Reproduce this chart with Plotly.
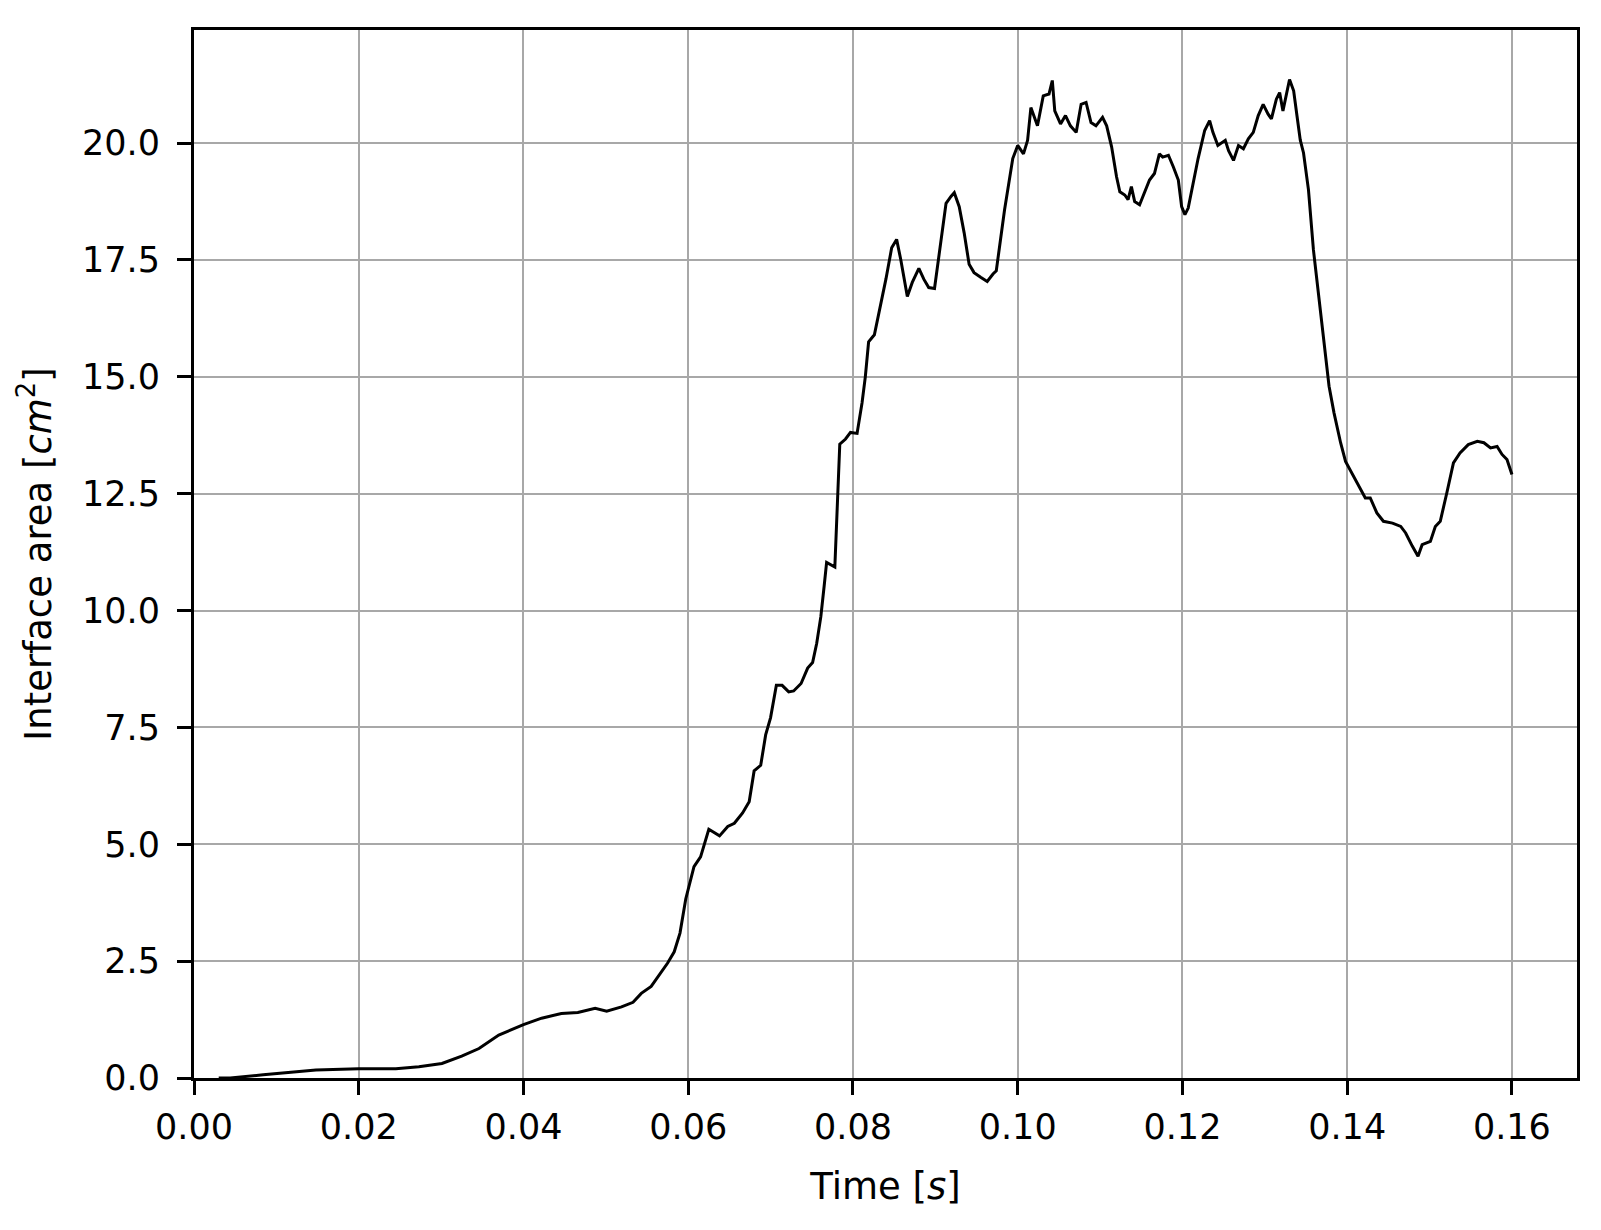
"""
界面面积随时间变化曲线
"""

import plotly.graph_objects as go

# 时间 [s]
time_s = [
    0.003, 0.0044, 0.0084, 0.0112, 0.0148, 0.0200, 0.0245, 0.0273, 0.0301, 0.0325,
    0.0346, 0.0370, 0.0400, 0.0422, 0.0446, 0.0466, 0.0487, 0.0501, 0.0519, 0.0533,
    0.0543, 0.0555, 0.0563, 0.0575, 0.0583, 0.0590, 0.0597, 0.0607, 0.0615, 0.0625,
    0.0638, 0.0648, 0.0656, 0.0666, 0.0674, 0.0680, 0.0688, 0.0694, 0.0700, 0.0707,
    0.0714, 0.0722, 0.0728, 0.0737, 0.0745, 0.0751, 0.0756, 0.0761, 0.0765, 0.0768,
    0.0778, 0.0781, 0.0784, 0.0791, 0.0797, 0.0805, 0.0811, 0.0815, 0.0819, 0.0826,
    0.0832, 0.0840, 0.0847, 0.0853, 0.0858, 0.0866, 0.0872, 0.0880, 0.0886, 0.0892,
    0.0899, 0.0905, 0.0913, 0.0919, 0.0923, 0.0929, 0.0935, 0.0941, 0.0947, 0.0955,
    0.0963, 0.0970, 0.0974, 0.0984, 0.0994, 0.1000, 0.1007, 0.1012, 0.1016, 0.1024,
    0.1031, 0.1038, 0.1042, 0.1045, 0.1052, 0.1058, 0.1064, 0.1071, 0.1077, 0.1083,
    0.1089, 0.1095, 0.1103, 0.1108, 0.1114, 0.1120, 0.1124, 0.1130, 0.1134, 0.1138,
    0.1142, 0.1148, 0.1154, 0.1160, 0.1166, 0.1172, 0.1176, 0.1183, 0.1189, 0.1195,
    0.1199, 0.1203, 0.1207, 0.1213, 0.1219, 0.1227, 0.1233, 0.1237, 0.1243, 0.1252,
    0.1256, 0.1262, 0.1268, 0.1274, 0.1280, 0.1286, 0.1292, 0.1298, 0.1304, 0.1308,
    0.1314, 0.1318, 0.1322, 0.1330, 0.1335, 0.1339, 0.1343, 0.1347, 0.1353, 0.1359,
    0.1366, 0.1370, 0.1374, 0.1378, 0.1384, 0.1392, 0.1398, 0.1406, 0.1414, 0.1422,
    0.1428, 0.1436, 0.1444, 0.1455, 0.1465, 0.1471, 0.1479, 0.1486, 0.1491, 0.1501,
    0.1507, 0.1513, 0.1521, 0.1529, 0.1537, 0.1547, 0.1558, 0.1566, 0.1574, 0.1582,
    0.1588, 0.1594, 0.1600,
]

# 界面面积 [cm^2]
area_cm2 = [
    0.00, 0.00, 0.07, 0.12, 0.17, 0.20, 0.20, 0.24, 0.31, 0.47,
    0.63, 0.92, 1.14, 1.28, 1.38, 1.40, 1.49, 1.43, 1.52, 1.62,
    1.81, 1.96, 2.17, 2.46, 2.70, 3.10, 3.83, 4.52, 4.73, 5.32,
    5.18, 5.38, 5.45, 5.67, 5.91, 6.57, 6.69, 7.34, 7.71, 8.40,
    8.40, 8.26, 8.28, 8.44, 8.77, 8.89, 9.30, 9.87, 10.52, 11.03,
    10.93, 12.48, 13.56, 13.67, 13.81, 13.79, 14.44, 15.00, 15.75, 15.90,
    16.38, 17.09, 17.76, 17.94, 17.51, 16.72, 17.02, 17.32, 17.09, 16.91,
    16.89, 17.66, 18.71, 18.86, 18.94, 18.64, 18.08, 17.41, 17.23, 17.13,
    17.04, 17.20, 17.27, 18.57, 19.67, 19.95, 19.77, 20.06, 20.76, 20.37,
    21.01, 21.05, 21.34, 20.69, 20.41, 20.59, 20.37, 20.23, 20.83, 20.87,
    20.44, 20.37, 20.55, 20.37, 19.92, 19.28, 18.96, 18.89, 18.79, 19.07,
    18.75, 18.68, 18.96, 19.21, 19.35, 19.77, 19.70, 19.74, 19.49, 19.21,
    18.64, 18.47, 18.61, 19.14, 19.67, 20.27, 20.48, 20.23, 19.95, 20.06,
    19.84, 19.63, 19.95, 19.88, 20.09, 20.23, 20.59, 20.83, 20.62, 20.52,
    20.94, 21.08, 20.69, 21.36, 21.12, 20.59, 20.07, 19.79, 19.00, 17.72,
    16.65, 15.94, 15.37, 14.80, 14.23, 13.59, 13.19, 12.94, 12.66, 12.41,
    12.41, 12.09, 11.91, 11.87, 11.80, 11.66, 11.38, 11.16, 11.41, 11.48,
    11.80, 11.91, 12.52, 13.16, 13.37, 13.55, 13.62, 13.59, 13.48, 13.51,
    13.34, 13.23, 12.91,
]

x_ticks = [0.00, 0.02, 0.04, 0.06, 0.08, 0.10, 0.12, 0.14, 0.16]
y_ticks = [0.0, 2.5, 5.0, 7.5, 10.0, 12.5, 15.0, 17.5, 20.0]

FONT = "DejaVu Sans"
TICK_SIZE = 35
TITLE_SIZE = 37

fig = go.Figure()

fig.add_trace(go.Scatter(
    x=time_s,
    y=area_cm2,
    mode='lines',
    line=dict(color='black', width=3),
    showlegend=False
))

axis_style = dict(
    showline=True,
    linecolor='black',
    linewidth=3,
    mirror=True,
    ticks='outside',
    ticklen=14,
    tickwidth=3,
    tickcolor='black',
    showgrid=True,
    gridcolor='#a8a8a8',
    gridwidth=1.5,
    zeroline=False,
    tickfont=dict(family=FONT, size=TICK_SIZE, color='black'),
)

fig.update_xaxes(
    range=[0, 0.1679],
    tickvals=x_ticks,
    ticktext=[f'{v:.2f}' for v in x_ticks],
    ticklabelstandoff=2,
    title=dict(text='Time [<i>s</i>]', font=dict(family=FONT, size=TITLE_SIZE, color='black'), standoff=28),
    **axis_style
)
fig.update_yaxes(
    range=[0, 22.42],
    tickvals=y_ticks,
    ticktext=[f'{v:.1f}' for v in y_ticks],
    ticklabelstandoff=10,
    title=dict(text='Interface area [<i>cm</i><sup>2</sup>]',
               font=dict(family=FONT, size=TITLE_SIZE, color='black'), standoff=20),
    **axis_style
)

# 页面body默认有8px边距，这里相应调整
fig.update_layout(
    width=1601,
    height=1230,
    margin=dict(l=186, r=32, t=22, b=160),
    plot_bgcolor='white',
    paper_bgcolor='white',
    font=dict(family=FONT, color='black'),
)

fig.write_html("out.html")
